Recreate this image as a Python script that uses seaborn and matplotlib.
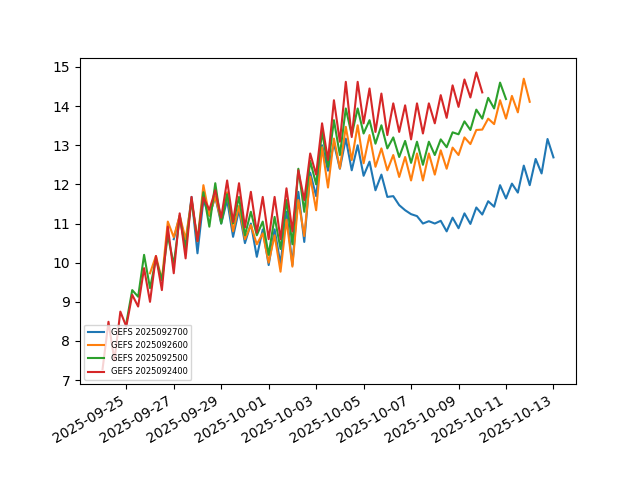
import numpy as np
import pandas as pd
import matplotlib
matplotlib.use("Agg")
import matplotlib.pyplot as plt
import seaborn as sns

# forecast runs (init time) and 6-hourly values, 65 steps each (16 days)
runs = ['2025092700', '2025092600', '2025092500', '2025092400']

gefs_0927 = [10.6, 11.2, 10.45, 11.68, 10.24, 11.6, 11.2, 11.68, 11.0, 11.6,
             10.66, 11.35, 10.5, 11.0, 10.15, 10.85, 9.94, 10.85, 9.96, 11.3,
             9.94, 11.81, 10.53, 12.3, 11.7, 13.0, 12.35, 13.05, 12.4, 13.17,
             12.36, 13.0, 12.22, 12.58, 11.85, 12.25, 11.68, 11.7, 11.47, 11.34,
             11.24, 11.19, 11.0, 11.06, 11.0, 11.07, 10.8, 11.15, 10.88, 11.26,
             10.99, 11.41, 11.23, 11.57, 11.43, 11.98, 11.64, 12.02, 11.79, 12.48,
             11.98, 12.65, 12.28, 13.16, 12.69]

gefs_0926 = [9.73, 10.17, 9.56, 11.05, 10.65, 11.2, 10.6, 11.6, 10.55, 11.98,
             11.2, 11.7, 11.05, 11.8, 10.8, 11.45, 10.6, 10.96, 10.47, 10.75,
             10.0, 10.7, 9.77, 11.1, 9.9, 11.6, 10.68, 12.2, 11.34, 12.95,
             11.92, 13.17, 12.41, 13.47, 12.62, 13.51, 12.54, 13.26, 12.45, 12.92,
             12.36, 12.75, 12.19, 12.7, 12.1, 12.79, 12.1, 12.79, 12.25, 12.87,
             12.4, 12.94, 12.75, 13.2, 13.03, 13.39, 13.4, 13.68, 13.54, 14.15,
             13.68, 14.26, 13.84, 14.7, 14.11]

gefs_0925 = [8.45, 9.3, 9.13, 10.2, 9.35, 10.1, 9.55, 10.7, 9.95, 11.15,
             10.35, 11.6, 10.55, 11.8, 10.92, 12.03, 11.0, 11.75, 11.0, 11.68,
             10.7, 11.3, 10.7, 11.05, 10.2, 11.17, 10.35, 11.6, 10.47, 12.4,
             11.3, 12.6, 12.0, 13.35, 12.45, 13.64, 12.75, 13.94, 13.26, 13.94,
             13.3, 13.64, 13.04, 13.51, 12.92, 13.2, 12.7, 13.11, 12.55, 13.09,
             12.5, 13.09, 12.75, 13.15, 12.95, 13.33, 13.28, 13.61, 13.39, 13.91,
             13.68, 14.21, 13.94, 14.6, 14.18]

gefs_0924 = [7.28, 8.49, 7.5, 8.75, 8.37, 9.18, 8.88, 9.86, 9.0, 10.17,
             9.3, 10.92, 9.73, 11.26, 10.11, 11.68, 10.55, 11.67, 11.35, 11.85,
             11.15, 12.1, 11.04, 12.03, 10.9, 11.81, 10.77, 11.68, 10.6, 11.68,
             10.6, 11.9, 10.8, 12.36, 11.6, 12.79, 12.25, 13.56, 12.62, 14.15,
             13.09, 14.62, 13.21, 14.62, 13.56, 14.45, 13.34, 14.32, 13.26, 14.07,
             13.34, 14.02, 13.15, 14.07, 13.3, 14.07, 13.56, 14.28, 13.7, 14.53,
             13.98, 14.68, 14.22, 14.86, 14.35]

series = [gefs_0927, gefs_0926, gefs_0925, gefs_0924]

fig, ax = plt.subplots(figsize=(6.4, 4.8), dpi=100)

for run, vals in zip(runs, series):
    start = pd.to_datetime(run, format='%Y%m%d%H')
    times = pd.date_range(start, periods=len(vals), freq='6h')
    sns.lineplot(x=times, y=vals, ax=ax, label=f'GEFS {run}')

ax.set_xlabel('')
ax.set_ylabel('')
ax.legend(loc='lower left', fontsize=6)
fig.autofmt_xdate()

plt.savefig('out.png')
plt.close()
